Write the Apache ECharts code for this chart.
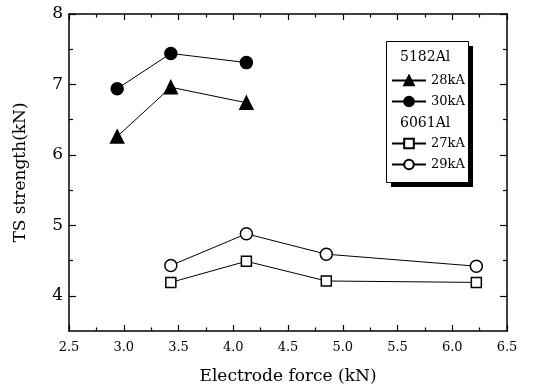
<!DOCTYPE html>
<html>
<head>
<meta charset="utf-8">
<script src="https://cdn.jsdelivr.net/npm/echarts@6/dist/echarts.min.js"></script>
<style>
  html, body { margin: 0; padding: 0; background: #fff; }
  #chart { width: 547px; height: 390px; }
</style>
</head>
<body>
<div id="chart"></div>
<script>
// 5182Al
const force5182 = [2.94, 3.43, 4.12];
const ts28kA = [6.26, 6.96, 6.74];
const ts30kA = [6.94, 7.44, 7.31];
// 6061Al
const force6061 = [3.43, 4.12, 4.85, 6.22];
const ts27kA = [4.19, 4.49, 4.21, 4.19];
const ts29kA = [4.43, 4.88, 4.59, 4.42];

const yMajorTicks = [4, 5, 6, 7, 8];
const yMinorTicks = [4.5, 5.5, 6.5, 7.5];

const chart = echarts.init(document.getElementById("chart"));
const font = "DejaVu Serif";

function pairs(xs, ys) {
  return xs.map((x, i) => [x, ys[i]]);
}

function xAxisDef(pos, showLabel) {
  return {
    type: "value",
    position: pos,
    min: 2.5,
    max: 6.5,
    interval: 0.5,
    axisLine: { show: true, onZero: false, lineStyle: { color: "#000", width: 1.5 } },
    axisTick: { inside: true, length: 6, lineStyle: { color: "#000", width: 1.2 } },
    minorTick: { show: true, splitNumber: 2, length: 3.5, lineStyle: { color: "#000", width: 1.2 } },
    splitLine: { show: false },
    axisLabel: {
      show: showLabel,
      color: "#000",
      fontFamily: font,
      fontSize: 13,
      margin: 10,
      formatter: (v) => v.toFixed(1),
    },
  };
}

function yAxisDef(pos, ticks, len, showLabel, showLine) {
  return {
    type: "value",
    position: pos,
    min: 3.5,
    max: 8,
    axisLine: { show: showLine, onZero: false, lineStyle: { color: "#000", width: 1.5 } },
    axisTick: { show: true, inside: true, length: len, customValues: ticks, lineStyle: { color: "#000", width: 1.2 } },
    splitLine: { show: false },
    axisLabel: {
      show: showLabel,
      customValues: yMajorTicks,
      color: "#000",
      fontFamily: font,
      fontSize: 17,
      margin: 6,
    },
  };
}

const xMain = xAxisDef("bottom", true);
xMain.name = "Electrode force (kN)";
xMain.nameLocation = "middle";
xMain.nameGap = 37;
xMain.nameTextStyle = { color: "#000", fontFamily: font, fontSize: 17 };

const yMain = yAxisDef("left", yMajorTicks, 7, true, true);
yMain.name = "TS strength(kN)";
yMain.nameLocation = "middle";
yMain.nameGap = 40;
yMain.nameTextStyle = { color: "#000", fontFamily: font, fontSize: 17 };

function lineSeries(name, data, symbol, size, filled) {
  return {
    name: name,
    type: "line",
    data: data,
    symbol: symbol,
    symbolSize: size,
    showSymbol: true,
    xAxisIndex: 0,
    yAxisIndex: 0,
    lineStyle: { color: "#000", width: 1 },
    itemStyle: { color: filled ? "#000" : "#fff", borderColor: "#000", borderWidth: 1.5 },
    z: 3,
  };
}

const legendText = { color: "#000", fontFamily: font, fontSize: 13 };

chart.setOption({
  animation: false,
  backgroundColor: "#fff",
  grid: { left: 69, right: 40, top: 14, bottom: 57 },
  xAxis: [xMain, xAxisDef("top", false)],
  yAxis: [
    yMain,
    yAxisDef("left", yMinorTicks, 4, false, false),
    yAxisDef("right", yMajorTicks, 7, false, true),
    yAxisDef("right", yMinorTicks, 4, false, false),
  ],
  legend: [
    {
      data: ["28kA", "30kA"],
      orient: "vertical",
      left: 386,
      top: 69,
      itemWidth: 34,
      itemHeight: 12,
      itemGap: 8,
      textStyle: legendText,
      z: 10,
    },
    {
      data: ["27kA", "29kA"],
      orient: "vertical",
      left: 386,
      top: 132,
      itemWidth: 34,
      itemHeight: 12,
      itemGap: 8,
      textStyle: legendText,
      z: 10,
    },
  ],
  graphic: [
    {
      type: "rect",
      left: 391,
      top: 46,
      shape: { width: 82, height: 141 },
      style: { fill: "#000" },
      z: 1,
    },
    {
      type: "rect",
      left: 386,
      top: 41,
      shape: { width: 82, height: 141 },
      style: { fill: "#fff", stroke: "#000", lineWidth: 1 },
      z: 2,
    },
    {
      type: "text",
      left: 400,
      top: 50,
      style: { text: "5182Al", fill: "#000", font: "14px " + font },
      z: 3,
    },
    {
      type: "text",
      left: 400,
      top: 116,
      style: { text: "6061Al", fill: "#000", font: "14px " + font },
      z: 3,
    },
  ],
  series: [
    lineSeries("28kA", pairs(force5182, ts28kA), "triangle", 13, true),
    lineSeries("30kA", pairs(force5182, ts30kA), "circle", 12, true),
    lineSeries("27kA", pairs(force6061, ts27kA), "rect", 10, false),
    lineSeries("29kA", pairs(force6061, ts29kA), "circle", 12, false),
  ],
});
</script>
</body>
</html>
